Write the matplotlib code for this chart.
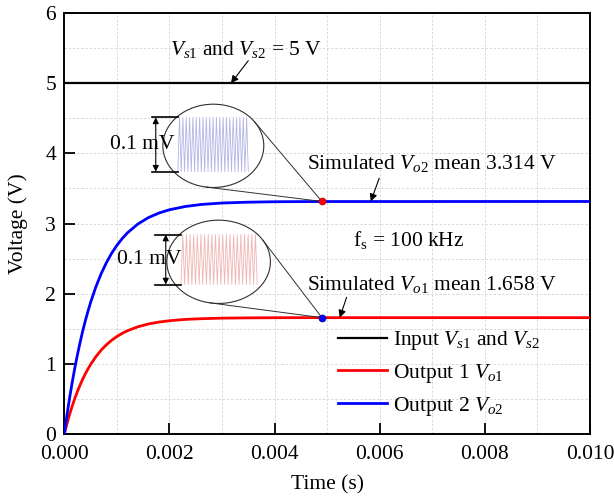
import numpy as np
import matplotlib
matplotlib.use("Agg")
import matplotlib.pyplot as plt
from matplotlib.patches import Ellipse
from matplotlib.ticker import MultipleLocator, FormatStrFormatter

plt.rcParams["font.family"] = ["Liberation Serif", "DejaVu Serif"]
plt.rcParams["mathtext.fontset"] = "custom"
plt.rcParams["mathtext.rm"] = "Liberation Serif"
plt.rcParams["mathtext.it"] = "Liberation Serif:italic"
plt.rcParams["font.size"] = 15.5

# start-up transient (time in ms, voltage in V)
t_ms = [0.0, 0.05, 0.1, 0.15, 0.2, 0.25, 0.3, 0.35, 0.4, 0.45, 0.5, 0.6, 0.7, 0.8, 0.9,
        1.0, 1.1, 1.2, 1.4, 1.6, 1.8, 2.0, 2.3, 2.6, 3.0, 3.5, 4.0, 4.5, 5.0, 10.0]
v_o1 = [0.0, 0.144, 0.276, 0.396, 0.506, 0.606, 0.697, 0.781, 0.857, 0.926, 0.990,
        1.101, 1.194, 1.271, 1.335, 1.389, 1.434, 1.471, 1.528, 1.568, 1.595, 1.614,
        1.633, 1.643, 1.651, 1.655, 1.657, 1.658, 1.658, 1.658]
v_o2 = [0.0, 0.265, 0.509, 0.733, 0.940, 1.129, 1.304, 1.465, 1.613, 1.748, 1.874,
        2.095, 2.282, 2.440, 2.575, 2.688, 2.784, 2.866, 2.993, 3.084, 3.149, 3.196,
        3.242, 3.271, 3.292, 3.304, 3.310, 3.312, 3.313, 3.314]
v_in = [5.0] * len(t_ms)
t = np.array(t_ms) / 1000.0

v_o1_mean = 1.658
v_o2_mean = 3.314
t_probe = 0.0049
ripple_cycles = 21

fig = plt.figure(figsize=(6.14, 4.97), dpi=100)
ax = fig.add_axes([0.1047, 0.1268, 0.8562, 0.8470])

ax.plot(t, v_in, color="black", lw=1.6, label="Input $V_{s1}$ and $V_{s2}$", zorder=3)
ax.plot(t, v_o1, color="#ff0000", lw=2.0, label="Output 1 $V_{o1}$", zorder=3)
ax.plot(t, v_o2, color="#0000ff", lw=2.0, label="Output 2 $V_{o2}$", zorder=3)

ax.set_xlim(0, 0.010)
ax.set_ylim(0, 6)
ax.xaxis.set_major_locator(MultipleLocator(0.002))
ax.xaxis.set_minor_locator(MultipleLocator(0.001))
ax.xaxis.set_major_formatter(FormatStrFormatter("%.3f"))
ax.yaxis.set_major_locator(MultipleLocator(1))
ax.yaxis.set_minor_locator(MultipleLocator(0.5))
ax.tick_params(which="major", direction="in", length=8, width=1.3, pad=6)
ax.tick_params(axis="x", which="major", pad=8)
ax.tick_params(which="minor", length=0)
ax.grid(True, which="both", ls=(0, (3, 2)), lw=0.6, color="#d4d4d4", zorder=0)
for s in ax.spines.values():
    s.set_linewidth(1.4)
ax.set_xlabel("Time (s)", labelpad=8)
ax.set_ylabel("Voltage (V)", labelpad=12)

# probe dots where the ripple is zoomed
ax.plot([t_probe], [v_o2_mean], "o", color="#ff0000", ms=5, mec="#c00000", mew=0.5, zorder=6)
ax.plot([t_probe], [v_o1_mean], "o", color="#0000ff", ms=5, mec="#000090", mew=0.5, zorder=6)


def tangent_lines(cx, cy, w, h, px, py):
    """Two tangents from (px, py) to an axis-aligned ellipse, in data coords."""
    th = np.linspace(0, 2 * np.pi, 2000)
    ex = cx + w / 2 * np.cos(th)
    ey = cy + h / 2 * np.sin(th)
    pts = ax.transData.transform(np.column_stack([ex, ey]))
    p = ax.transData.transform([px, py])
    ang = np.unwrap(np.arctan2(pts[:, 1] - p[1], pts[:, 0] - p[0]))
    for i in (np.argmin(ang), np.argmax(ang)):
        ax.plot([ex[i], px], [ey[i], py], color="#303030", lw=0.7, zorder=4)


def zoom_inset(cx, cy, w, h, wave_x, wave_y, wave_color, dim_x0, arrow_x, label_x, px, py):
    ax.add_patch(Ellipse((cx, cy), w, h, fc="white", ec="#303030", lw=0.8, zorder=4))
    tangent_lines(cx, cy, w, h, px, py)
    xs = np.linspace(wave_x[0], wave_x[1], 2 * ripple_cycles + 1)
    ys = np.tile([wave_y[0], wave_y[1]], ripple_cycles + 1)[:len(xs)]
    ax.plot(xs, ys, color=wave_color, lw=0.6, zorder=5)
    for yy in wave_y:
        ax.plot([dim_x0, wave_x[0]], [yy, yy], color="black", lw=1.2, zorder=5)
    ax.annotate("", xy=(arrow_x, wave_y[1]), xytext=(arrow_x, wave_y[0]),
                arrowprops=dict(arrowstyle="<|-|>", color="black", lw=0.8,
                                mutation_scale=9, shrinkA=0, shrinkB=0), zorder=5)
    ax.text(label_x, (wave_y[0] + wave_y[1]) / 2, "0.1 mV", ha="left", va="center", zorder=6)


zoom_inset(0.002835, 4.107, 0.00192, 1.187, (0.00216, 0.00350), (3.738, 4.513),
           "#b4b4e6", 0.00166, 0.00174, 0.00087, t_probe, v_o2_mean)
zoom_inset(0.002936, 2.454, 0.00197, 1.187, (0.00222, 0.00367), (2.130, 2.843),
           "#f0b4b4", 0.00172, 0.00193, 0.00100, t_probe, v_o1_mean)

arrow = dict(arrowstyle="-|>", color="black", lw=0.8, mutation_scale=11, shrinkA=0, shrinkB=0)
ax.text(0.00201, 5.40, "$V_{s1}$ and $V_{s2}$ = 5 V", ha="left", va="baseline", zorder=6)
ax.annotate("", xy=(0.00317, 5.0), xytext=(0.00350, 5.32), arrowprops=arrow, zorder=6)
ax.text(0.00461, 3.776, "Simulated $V_{o2}$ mean 3.314 V", ha="left", va="baseline", zorder=6)
ax.annotate("", xy=(0.00583, v_o2_mean), xytext=(0.00599, 3.644), arrowprops=arrow, zorder=6)
ax.text(0.00549, 2.679, r"$\mathrm{f_s}$ = 100 kHz", ha="left", va="baseline", zorder=6)
ax.text(0.00462, 2.052, "Simulated $V_{o1}$ mean 1.658 V", ha="left", va="baseline", zorder=6)
ax.annotate("", xy=(0.00524, v_o1_mean), xytext=(0.00537, 1.948), arrowprops=arrow, zorder=6)

ax.legend(loc="upper left", bbox_to_anchor=(0.5206, 0.249), frameon=False, borderpad=0,
          borderaxespad=0, handlelength=2.3, handletextpad=0.25, labelspacing=0.45)

fig.savefig("out.png", dpi=100)
